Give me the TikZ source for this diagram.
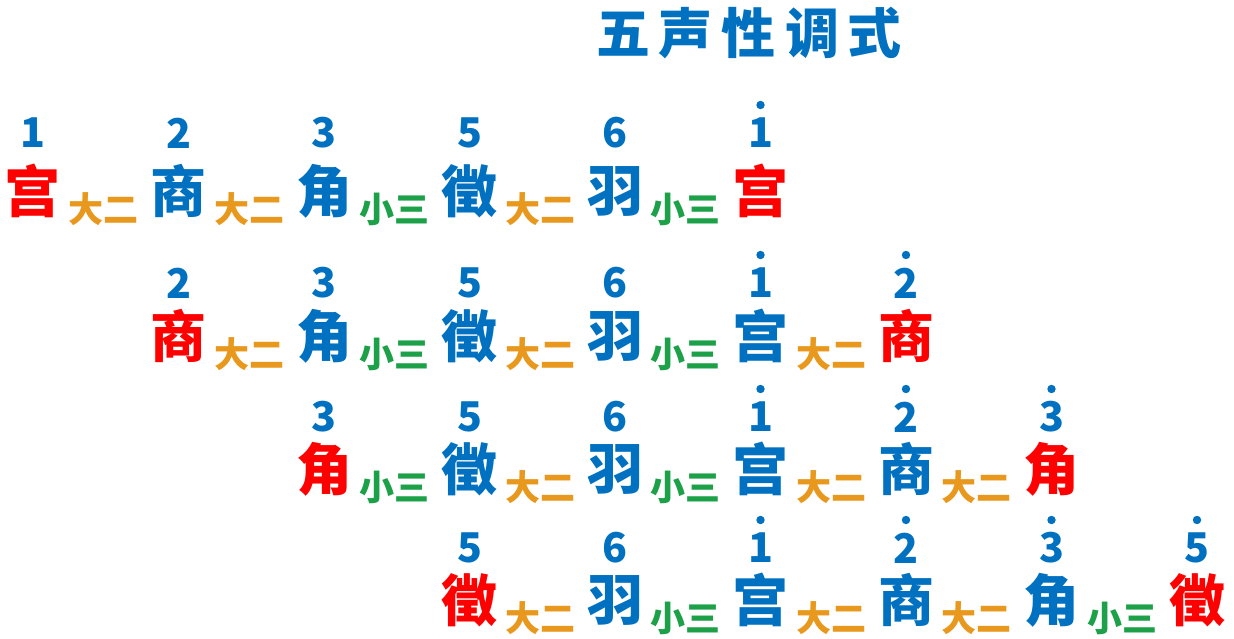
\documentclass[tikz,border=0pt]{standalone}
\usepackage{fontspec}
\newfontfamily\cjk{Noto Sans CJK SC}
\definecolor{bl}{RGB}{0,112,192}
\definecolor{rd}{RGB}{255,0,0}
\definecolor{og}{RGB}{232,152,28}
\definecolor{gn}{RGB}{28,160,72}
\newcommand\notechar[1]{\ifcase#1 宫\or 商\or 角\or 徵\or 羽\or 宫\or 商\or 角\or 徵\fi}
\newcommand\notenum[1]{\ifcase#1 1\or 2\or 3\or 5\or 6\or 1\or 2\or 3\or 5\fi}
\newcommand\ivltext[1]{\ifcase#1 \color{og}大二\or \color{og}大二\or \color{gn}小三\or \color{og}大二\or \color{gn}小三\or \color{og}大二\or \color{og}大二\or \color{gn}小三\fi}
\tikzset{
  note/.style={font=\cjk\bfseries\fontsize{56}{56}\selectfont, text=bl, inner sep=0pt},
  num/.style={font=\cjk\bfseries\fontsize{41}{41}\selectfont, text=bl, inner sep=0pt},
  ivl/.style={font=\cjk\bfseries\fontsize{35}{35}\selectfont, inner sep=0pt},
  ttl/.style={font=\cjk\bfseries\fontsize{54}{54}\selectfont, text=bl, inner sep=0pt},
  hdot/.style={fill=bl, draw=none}
}
\begin{document}
\begin{tikzpicture}[x=1pt,y=-1pt]
\useasboundingbox (0,0) rectangle (1234,639);
\node[ttl] (title) at (749,33) {五\kern9pt 声\kern9pt 性\kern9pt 调\kern9pt 式};
\foreach \r/\y/\ny in {0/191/133,1/336/283,2/469/417,3/600/548}{
  \pgfmathtruncatemacro\last{\r+5}
  \foreach \i in {\r,...,\last}{
    \pgfmathsetmacro\xx{33+145.5*\i}
    \node[note] (n\r-\i) at (\xx,\y) {\ifnum\i=\r\color{rd}\fi\ifnum\i=\last\color{rd}\fi\notechar{\i}};
    \node[num] (d\r-\i) at (\xx,\ny) {\notenum{\i}};
    \ifnum\i>4
      \fill[hdot] (\xx,\ny-28) circle (4.2);
    \fi
    \ifnum\i<\last
      \pgfmathsetmacro\xm{33+145.5*\i+70.5}
      \node[ivl] (v\r-\i) at (\xm,\y+18) {\ivltext{\i}};
    \fi
  }
}
\end{tikzpicture}
\end{document}
